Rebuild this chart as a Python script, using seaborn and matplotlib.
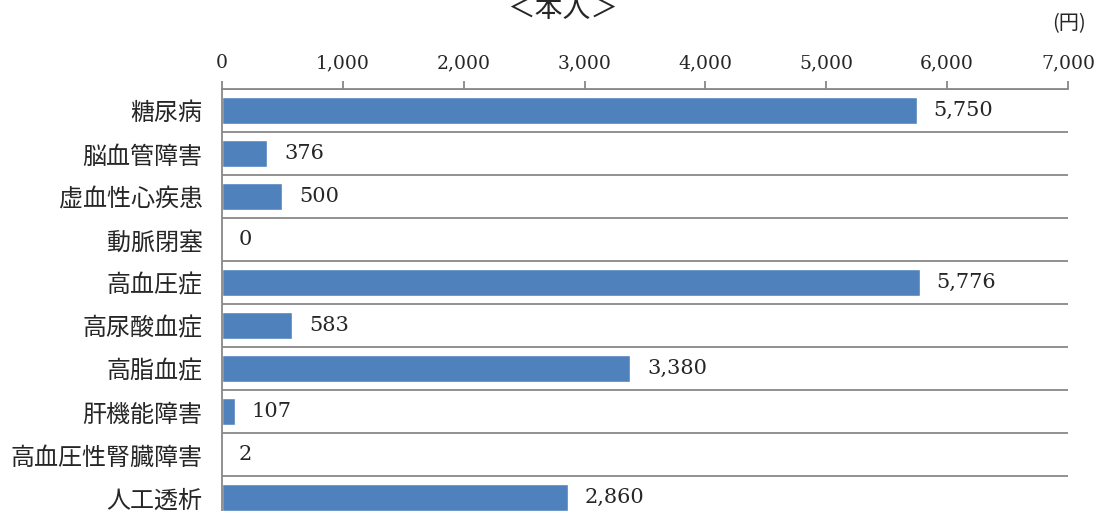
import matplotlib
matplotlib.use("Agg")
import matplotlib.pyplot as plt
import numpy as np
import pandas as pd
import seaborn as sb

# data
categories = ["糖尿病", "脳血管障害", "虚血性心疾患", "動脈閉塞", "高血圧症",
              "高尿酸血症", "高脂血症", "肝機能障害", "高血圧性腎臓障害", "人工透析"]
values = [5750, 376, 500, 0, 5776, 583, 3380, 107, 2, 2860]
x_ticks = [0, 1000, 2000, 3000, 4000, 5000, 6000, 7000]

sb.set_style("white")
plt.rcParams['font.family'] = ['Noto Sans CJK JP', 'DejaVu Sans']

df = pd.DataFrame({"cat": categories, "val": values})

fig = plt.figure(figsize=(10.95, 5.11), dpi=100)
ax = fig.add_axes([222/1095, -8/511, 846/1095, 430/511])

sb.barplot(data=df, x="val", y="cat", orient="h", color="#4F81BD",
           saturation=1, width=0.65, ax=ax)

ax.set_xlim(0, 7000)
ax.set_ylim(len(categories) - 0.5, -0.5)
ax.set_xlabel("")
ax.set_ylabel("")

# x axis on top
ax.xaxis.tick_top()
ax.set_xticks(x_ticks)
ax.set_xticklabels([f"{t:,}" for t in x_ticks], family="DejaVu Serif", fontsize=13.5)
ax.tick_params(axis="x", length=6, width=1.3, color="#888888", pad=6)

# category labels, ticks at row boundaries
ax.tick_params(axis="y", length=0, pad=14, labelsize=17.3)
ax.set_yticks(np.arange(-0.5, len(categories) + 0.5, 1), minor=True)
ax.tick_params(axis="y", which="minor", length=6, width=1.3, color="#888888")
ax.grid(axis="y", which="minor", color="#888888", linewidth=1.3)
ax.grid(axis="x", visible=False)

for side in ["right", "bottom"]:
    ax.spines[side].set_visible(False)
for side in ["left", "top"]:
    ax.spines[side].set_color("#888888")
    ax.spines[side].set_linewidth(1.3)

for i, v in enumerate(values):
    ax.annotate(f"{v:,}", (v, i), xytext=(12, 0), textcoords="offset points",
                va="center", ha="left", family="DejaVu Serif", fontsize=15)

fig.text(563/1095, 1 - 9/511, "＜本人＞", ha="center", va="center",
         fontsize=20)
fig.text(1086/1095, 1 - 24/511, "(円)", ha="right", va="center", fontsize=14.5)

fig.savefig("out.png", dpi=100)
